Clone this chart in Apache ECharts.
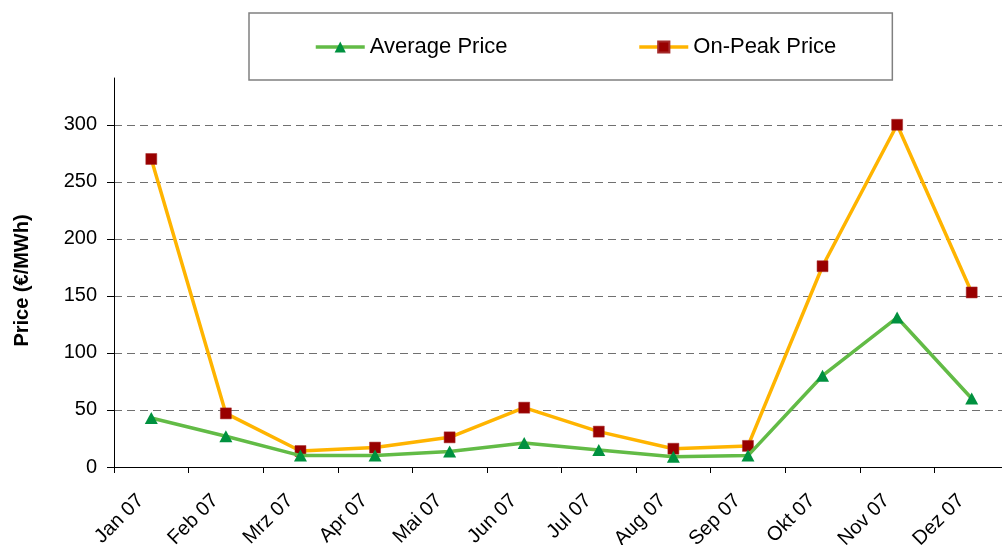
<!DOCTYPE html>
<html>
<head>
<meta charset="utf-8">
<title>Average and On-Peak Price 2007</title>
<script src="https://cdn.jsdelivr.net/npm/echarts@6/dist/echarts.min.js"></script>
<style>
  html, body { margin: 0; padding: 0; background: #fff; }
  #chart { width: 1002px; height: 545px; }
</style>
</head>
<body>
<div id="chart"></div>
<script>
// values
const months = ["Jan 07", "Feb 07", "Mrz 07", "Apr 07", "Mai 07", "Jun 07",
  "Jul 07", "Aug 07", "Sep 07", "Okt 07", "Nov 07", "Dez 07"];
const averagePrice = [43, 27, 10, 10, 13.5, 21, 15, 9, 10, 80, 131, 60];
const onPeakPrice = [270, 47, 14, 17, 26, 52, 31, 16, 18.5, 176, 300, 153];
const priceTicks = [0, 50, 100, 150, 200, 250, 300];

const font = "'Liberation Sans', Arial, sans-serif";

const chart = echarts.init(document.getElementById("chart"));

chart.setOption({
  animation: false,
  textStyle: { fontFamily: font, color: "#000" },
  legend: {
    left: 249,
    top: 13,
    padding: [23, 56, 22, 65],
    itemGap: 130,
    itemWidth: 49,
    itemHeight: 14,
    backgroundColor: "#fff",
    borderColor: "#808080",
    borderWidth: 1.5,
    borderRadius: 0,
    lineStyle: { width: 3.5 },
    textStyle: { fontFamily: font, fontSize: 22, color: "#000" },
    data: ["Average Price", "On-Peak Price"],
  },
  // the plot runs a little past the right edge of the picture,
  // and the rotated month labels are cut at the bottom
  grid: { left: 114, top: 78, width: 895, bottom: 78, outerBoundsMode: "none", containLabel: false },
  xAxis: {
    type: "category",
    data: months,
    boundaryGap: true,
    axisLine: { lineStyle: { color: "#000", width: 1 } },
    axisTick: { show: true, length: 6, lineStyle: { color: "#000" } },
    axisLabel: {
      rotate: 45,
      margin: 20,
      padding: [0, 15, 0, 0],
      fontFamily: font,
      fontSize: 20,
      color: "#000",
      interval: 0,
    },
    splitLine: { show: false },
  },
  yAxis: {
    type: "value",
    min: 0,
    max: 341,
    interval: 50,
    name: "Price (€/MWh)",
    nameLocation: "middle",
    nameGap: 82,
    nameTextStyle: {
      fontFamily: font, fontSize: 20, fontWeight: "bold", color: "#000",
      padding: [0, 16, 0, 0],
    },
    axisLine: { show: true, lineStyle: { color: "#000", width: 1 } },
    axisTick: { show: true, inside: false, length: 7, customValues: priceTicks, lineStyle: { color: "#000" } },
    axisLabel: { customValues: priceTicks, margin: 17, fontFamily: font, fontSize: 20, color: "#000" },
    splitLine: { show: true, lineStyle: { color: "#707070", width: 1, type: [8, 5] } },
  },
  series: [
    {
      name: "Average Price",
      type: "line",
      data: averagePrice,
      symbol: "triangle",
      symbolSize: [13, 12],
      lineStyle: { color: "#62BB46", width: 3.5 },
      itemStyle: { color: "#00913F", borderColor: "#00913F", borderWidth: 0 },
      z: 3,
    },
    {
      name: "On-Peak Price",
      type: "line",
      data: onPeakPrice,
      symbol: "rect",
      symbolSize: 11,
      lineStyle: { color: "#FFB400", width: 3.5 },
      itemStyle: { color: "#990000", borderColor: "#A52A2A", borderWidth: 0.5 },
      z: 2,
    },
  ],
});
</script>
</body>
</html>
